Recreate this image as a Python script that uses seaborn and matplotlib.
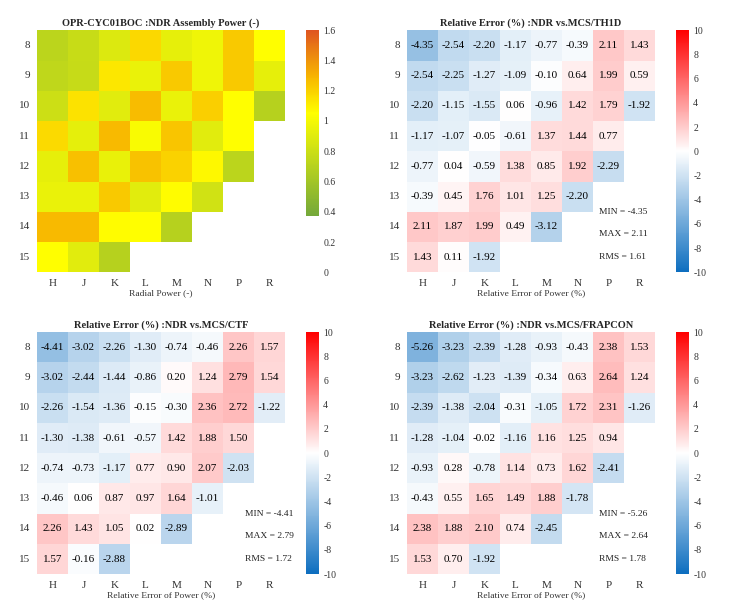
import numpy as np
import pandas as pd
import matplotlib
matplotlib.use("Agg")
import matplotlib.pyplot as plt
import seaborn as sns
from matplotlib.colors import LinearSegmentedColormap

sns.set_style("white")
plt.rcParams['font.family'] = ['Liberation Serif', 'DejaVu Serif']
plt.rcParams['axes.unicode_minus'] = False

cols = ['H', 'J', 'K', 'L', 'M', 'N', 'P', 'R']
rows = ['8', '9', '10', '11', '12', '13', '14', '15']
N = None

# assembly power
power = [
    [0.72, 0.78, 0.88, 1.18, 0.93, 0.97, 1.23, 1.05],
    [0.74, 0.77, 1.13, 0.95, 1.23, 0.97, 1.23, 0.93],
    [0.80, 1.15, 0.90, 1.27, 0.95, 1.21, 1.05, 0.70],
    [1.17, 0.92, 1.28, 1.02, 1.24, 0.90, 1.05, N],
    [0.93, 1.26, 0.94, 1.25, 1.20, 1.07, 0.72, N],
    [0.95, 0.95, 1.23, 0.90, 1.06, 0.82, N, N],
    [1.28, 1.28, 1.06, 1.05, 0.70, N, N, N],
    [1.05, 0.90, 0.70, N, N, N, N, N],
]

err_th1d = [
    [-4.35, -2.54, -2.20, -1.17, -0.77, -0.39, 2.11, 1.43],
    [-2.54, -2.25, -1.27, -1.09, -0.10, 0.64, 1.99, 0.59],
    [-2.20, -1.15, -1.55, 0.06, -0.96, 1.42, 1.79, -1.92],
    [-1.17, -1.07, -0.05, -0.61, 1.37, 1.44, 0.77, N],
    [-0.77, 0.04, -0.59, 1.38, 0.85, 1.92, -2.29, N],
    [-0.39, 0.45, 1.76, 1.01, 1.25, -2.20, N, N],
    [2.11, 1.87, 1.99, 0.49, -3.12, N, N, N],
    [1.43, 0.11, -1.92, N, N, N, N, N],
]

err_ctf = [
    [-4.41, -3.02, -2.26, -1.30, -0.74, -0.46, 2.26, 1.57],
    [-3.02, -2.44, -1.44, -0.86, 0.20, 1.24, 2.79, 1.54],
    [-2.26, -1.54, -1.36, -0.15, -0.30, 2.36, 2.72, -1.22],
    [-1.30, -1.38, -0.61, -0.57, 1.42, 1.88, 1.50, N],
    [-0.74, -0.73, -1.17, 0.77, 0.90, 2.07, -2.03, N],
    [-0.46, 0.06, 0.87, 0.97, 1.64, -1.01, N, N],
    [2.26, 1.43, 1.05, 0.02, -2.89, N, N, N],
    [1.57, -0.16, -2.88, N, N, N, N, N],
]

err_frapcon = [
    [-5.26, -3.23, -2.39, -1.28, -0.93, -0.43, 2.38, 1.53],
    [-3.23, -2.62, -1.23, -1.39, -0.34, 0.63, 2.64, 1.24],
    [-2.39, -1.38, -2.04, -0.31, -1.05, 1.72, 2.31, -1.26],
    [-1.28, -1.04, -0.02, -1.16, 1.16, 1.25, 0.94, N],
    [-0.93, 0.28, -0.78, 1.14, 0.73, 1.62, -2.41, N],
    [-0.43, 0.55, 1.65, 1.49, 1.88, -1.78, N, N],
    [2.38, 1.88, 2.10, 0.74, -2.45, N, N, N],
    [1.53, 0.70, -1.92, N, N, N, N, N],
]

stats_th1d = ['-4.35', '2.11', '1.61']
stats_ctf = ['-4.41', '2.79', '1.72']
stats_frapcon = ['-5.26', '2.64', '1.78']

# colormaps
pw_cmap = LinearSegmentedColormap.from_list('pw', [
    (0.0, 'white'), (0.37 / 1.6, 'white'), (0.375 / 1.6, '#74a83a'),
    (1.05 / 1.6, '#ffff00'), (1.3 / 1.6, '#f7b400'), (1.0, '#df5520')])
err_cmap = LinearSegmentedColormap.from_list('err', ['#0d6ebf', 'white', '#ff0000'])

fig = plt.figure(figsize=(7.4, 6.05), dpi=100)

panels = [
    (power, 'OPR-CYC01BOC :NDR Assembly Power (-)', 'Radial Power (-)', None, 0.05, 0.55),
    (err_th1d, 'Relative Error (%) :NDR vs.MCS/TH1D', 'Relative Error of Power (%)', (stats_th1d, 6.2), 0.55, 0.55),
    (err_ctf, 'Relative Error (%) :NDR vs.MCS/CTF', 'Relative Error of Power (%)', (stats_ctf, 6.7), 0.05, 0.051),
    (err_frapcon, 'Relative Error (%) :NDR vs.MCS/FRAPCON', 'Relative Error of Power (%)', (stats_frapcon, 6.2), 0.55, 0.051),
]

for vals, title, xlabel, stats, left, bottom in panels:
    df = pd.DataFrame(np.array(vals, dtype=float), index=rows, columns=cols)
    ax = fig.add_axes([left, bottom, 0.335, 0.40])
    cax = fig.add_axes([left + 0.3635, bottom, 0.0176, 0.40])
    if stats is None:
        sns.heatmap(df, ax=ax, cbar_ax=cax, cmap=pw_cmap, vmin=0, vmax=1.6,
                    cbar_kws={'ticks': np.arange(0, 1.61, 0.2), 'format': '%g'})
    else:
        sns.heatmap(df, ax=ax, cbar_ax=cax, cmap=err_cmap, vmin=-10, vmax=10,
                    annot=True, fmt='.2f', annot_kws={'color': 'black', 'fontsize': 8},
                    cbar_kws={'ticks': np.arange(-10, 11, 2)})
        labels = ['MIN = ', 'MAX = ', 'RMS = ']
        for i, (lab, v) in enumerate(zip(labels, stats[0])):
            ax.text(stats[1], 6.0 + 0.75 * i, lab + v, ha='left', va='center',
                    fontsize=6.8, color='#222222')
    ax.set_title(title, fontsize=7.5, fontweight='bold', pad=3)
    ax.set_xlabel(xlabel, fontsize=6.8, color='#333333', labelpad=1)
    ax.set_ylabel('')
    ax.tick_params(length=0, labelsize=8, colors='#333333', pad=5)
    ax.set_yticklabels(rows, rotation=0)
    cax.tick_params(length=0, labelsize=7, colors='#333333', pad=3)
    ax.collections[0].colorbar.outline.set_visible(False)

fig.savefig('out.png', dpi=100)
